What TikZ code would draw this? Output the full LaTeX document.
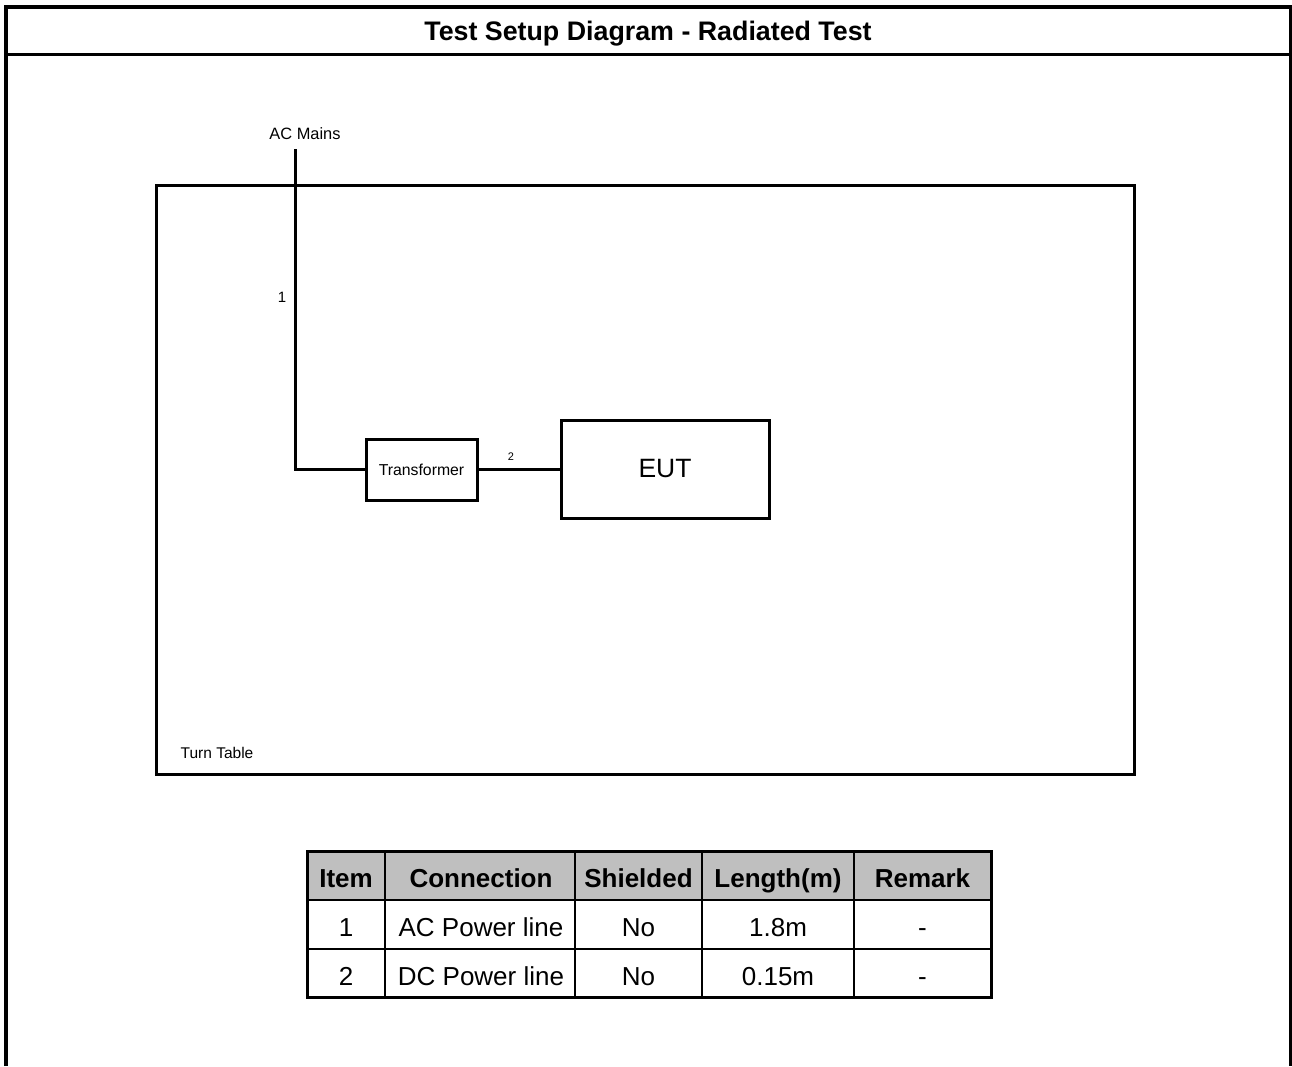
\documentclass[tikz,border=0pt]{standalone}
\usepackage{fontspec}
\setmainfont{Liberation Sans}
\begin{document}
\begin{tikzpicture}[x=1pt,y=-1pt,
  fs/.style={font=\fontsize{#1}{#1}\selectfont},
  lbl/.style={inner sep=0pt,anchor=base},
  box/.style={draw,line width=3pt,inner sep=0pt},
  wire/.style={line width=3pt},
  cell/.style={draw,line width=2.5pt,inner sep=0pt,minimum height=49pt},
  hcell/.style={cell,fill=black!25},
  ctext/.style={lbl,fs=26},
  htext/.style={lbl,font=\bfseries\fontsize{26}{26}\selectfont}]
\useasboundingbox (0,0) rectangle (1292,1066);
% outer frame
\draw[line width=4pt] (6,1066) -- (6,7) -- (1291,7) -- (1291,1066);
\draw[line width=2.3pt] (6,54.5) -- (1291,54.5);
\node[lbl,font=\bfseries\fontsize{26.8}{26.8}\selectfont] (title) at (648,40) {Test Setup Diagram - Radiated Test};
% turn table
\node[box,minimum width=978pt,minimum height=589pt] (tt) at (645,479.5) {};
\node[lbl,fs=15.5] (ttl) at (217,758) {Turn Table};
% equipment
\node[lbl,fs=16.4] (ac) at (305,139) {AC Mains};
\coordinate (acend) at (295,149);
\node[box,minimum width=111pt,minimum height=61pt,fs=15.8] (tr) at (421.5,469.5) {Transformer};
\node[box,minimum width=208pt,minimum height=98pt,fs=26.5] (eut) at (665,469) {EUT};
\draw[wire] (acend) |- (tr.west);
\draw[wire] (tr.east) -- (eut.west |- tr.east);
\node[lbl,fs=15] (n1) at (282,302) {1};
\node[lbl,fs=11] (n2) at (511,460) {2};
% table
\def\ya{875.5}\def\yb{924.5}\def\yc{973}
\node[hcell,minimum width=78pt] (h1) at (346,\ya) {};
\node[hcell,minimum width=190pt] (h2) at (480,\ya) {};
\node[hcell,minimum width=127pt] (h3) at (638.5,\ya) {};
\node[hcell,minimum width=152pt] (h4) at (778,\ya) {};
\node[hcell,minimum width=137pt] (h5) at (922.5,\ya) {};
\node[cell,minimum width=78pt] (a1) at (346,\yb) {};
\node[cell,minimum width=190pt] (a2) at (480,\yb) {};
\node[cell,minimum width=127pt] (a3) at (638.5,\yb) {};
\node[cell,minimum width=152pt] (a4) at (778,\yb) {};
\node[cell,minimum width=137pt] (a5) at (922.5,\yb) {};
\node[cell,minimum width=78pt,minimum height=48pt] (b1) at (346,\yc) {};
\node[cell,minimum width=190pt,minimum height=48pt] (b2) at (480,\yc) {};
\node[cell,minimum width=127pt,minimum height=48pt] (b3) at (638.5,\yc) {};
\node[cell,minimum width=152pt,minimum height=48pt] (b4) at (778,\yc) {};
\node[cell,minimum width=137pt,minimum height=48pt] (b5) at (922.5,\yc) {};
\draw[line width=3pt] (307,851) rectangle (991,997);
\node[htext] (th1) at (346,887) {Item};
\node[htext] (th2) at (481,887) {Connection};
\node[htext] (th3) at (638.5,887) {Shielded};
\node[htext] (th4) at (778,887) {Length(m)};
\node[htext] (th5) at (922.5,887) {Remark};
\node[ctext] (t11) at (346,936) {1};
\node[ctext] (t12) at (481,936) {AC Power line};
\node[ctext] (t13) at (638.5,936) {No};
\node[ctext] (t14) at (778,936) {1.8m};
\node[ctext] (t15) at (922.5,936) {-};
\node[ctext] (t21) at (346,985) {2};
\node[ctext] (t22) at (481,985) {DC Power line};
\node[ctext] (t23) at (638.5,985) {No};
\node[ctext] (t24) at (778,985) {0.15m};
\node[ctext] (t25) at (922.5,985) {-};
\end{tikzpicture}
\end{document}
